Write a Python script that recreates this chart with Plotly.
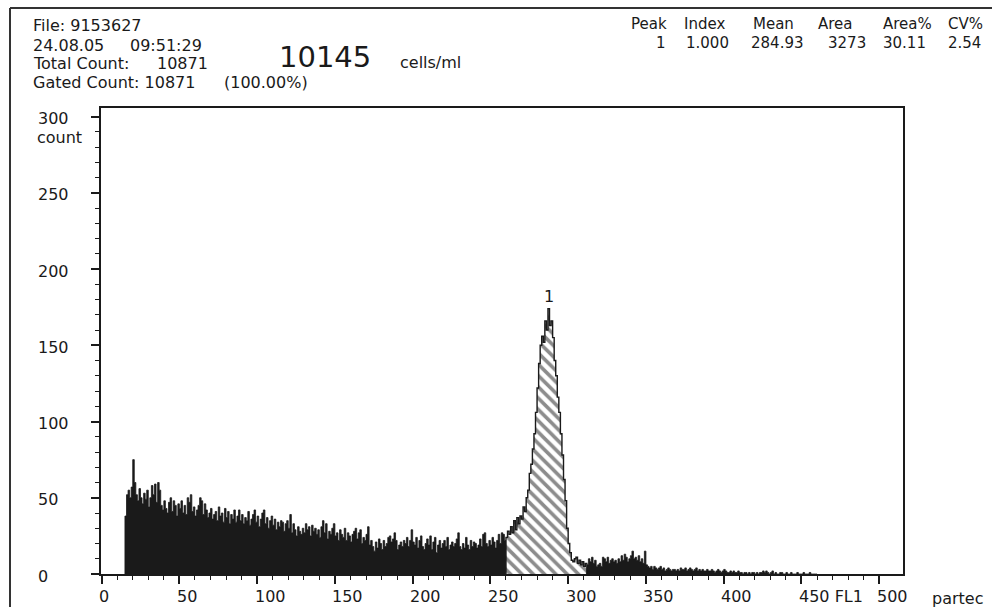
import plotly.graph_objects as go

# ---------------- data ----------------
start_left = 15
counts_left = [
    38, 52, 55, 50, 57,
    75, 60, 52, 48, 56, 50, 46, 53, 49, 55,
    44, 50, 58, 52, 59, 47, 60, 55, 45, 42,
    48, 43, 40, 47, 50, 41, 48, 45, 38, 46,
    43, 48, 40, 45, 39, 50, 47, 52, 41, 44,
    38, 42, 45, 50, 48, 39, 46, 42, 37, 40,
    43, 36, 39, 41, 35, 44, 38, 40, 34, 43,
    37, 41, 33, 39, 36, 42, 34, 38, 42, 35,
    39, 33, 37, 35, 41, 32, 36, 39, 42, 34,
    38, 31, 36, 40, 42, 33, 37, 30, 35, 38,
    32, 36, 29, 34, 31, 35, 34, 28, 33, 35,
    30, 39, 27, 33, 29, 25, 31, 28, 26, 30,
    27, 33, 29, 31, 25, 32, 28, 30, 26, 29,
    24, 31, 35, 27, 33, 23, 28, 26, 30, 33,
    25, 27, 22, 29, 26, 24, 30, 22, 27, 25,
    21, 26, 28, 30, 23, 27, 29, 20, 24, 22,
    26, 31, 19, 22, 18, 15, 21, 17, 23, 20,
    16, 22, 18, 20, 24, 25, 21, 23, 27, 22,
    16, 19, 21, 18, 22, 20, 24, 18, 22, 29,
    21, 19, 24, 17, 22, 25, 18, 16, 20, 23,
    19, 25, 16, 21, 24, 14, 19, 22, 17, 20,
    22, 18, 24, 16, 19, 21, 18, 20, 23, 27,
    18, 16, 20, 17, 24, 19, 16, 22, 18, 21,
    20, 17, 19, 23, 18, 26, 27, 20, 18, 22,
    19, 24, 21, 17, 22, 26, 20, 27, 26, 22,
]
start_peak = 260
counts_peak = [
    24, 28, 26, 31, 27, 35, 29, 37, 33, 38,
    36, 44, 41, 50, 55, 66, 72, 82, 92, 106,
    122, 138, 150, 156, 152, 166, 160, 174, 163, 166,
    155, 140, 130, 116, 106, 92, 78, 62, 48, 30,
    20, 14, 9, 8, 10, 11, 7, 9, 6, 8,
    5, 7,
]
start_right = 312
counts_right = [
    6, 10, 8, 11, 7, 9, 5, 6,
    7, 5, 11, 10, 8, 11, 7, 9, 10, 8,
    9, 7, 10, 8, 12, 9, 13, 11, 8, 10,
    12, 15, 10, 11, 9, 12, 8, 10, 7, 15,
    6, 5, 4, 5, 3, 5, 4, 3, 4, 5,
    3, 4, 2, 3, 4, 3, 2, 3, 3, 2,
    3, 2, 4, 3, 3, 4, 2, 3, 4, 3,
    2, 3, 4, 2, 3, 2, 3, 2, 2, 3,
    2, 2, 3, 2, 1, 2, 3, 2, 1, 2,
    3, 2, 1, 1, 2, 1, 2, 1, 1, 2,
    1, 1, 0, 1, 1, 0, 1, 0, 1, 1,
    0, 1, 0, 1, 1, 2, 1, 2, 1, 0,
    1, 2, 0, 1, 0, 0, 1, 1, 0, 0,
    1, 0, 0, 1, 0, 0, 0, 1, 0, 0,
    0, 1, 0, 0, 0, 1, 0, 0, 0, 0,
]
peak_label = "1"

x_major = [0, 50, 100, 150, 200, 250, 300, 350, 400, 450, 500]
x_labels = ["0", "50", "100", "150", "200", "250", "300", "350", "400", "450 FL1", "500"]
y_major = [0, 50, 100, 150, 200, 250, 300]
y_labels = ["0", "50", "100", "150", "200", "250", "300"]

header_left = [
    ("File: 9153627", 31, 25),
    ("24.08.05", 31, 45),
    ("09:51:29", 128, 45),
    ("Total Count:", 31, 63.5),
    ("10871", 155, 63.5),
    ("Gated Count: 10871", 31, 82),
    ("(100.00%)", 222, 82),
]
header_right = [
    ("Peak", 630, 23.5), ("Index", 683, 23.5), ("Mean", 752, 23.5),
    ("Area", 817, 23.5), ("Area%", 882, 23.5), ("CV%", 947, 23.5),
    ("1", 655, 42.5), ("1.000", 685, 42.5), ("284.93", 750, 42.5),
    ("3273", 827, 42.5), ("30.11", 882, 42.5), ("2.54", 947, 42.5),
]

# ---------------- layout geometry ----------------
W, H = 992, 607
ML, MR, MT, MB = 101, 89, 108, 33
PW, PH = W - ML - MR, H - MT - MB
FONT = "DejaVu Sans"
INK = "#1a1a1a"


def px(x):
    return (x - ML) / PW


def py(y):
    return (H - MB - y) / PH


def step_xy(start, vals):
    xs = [start] + [start + i for i in range(len(vals))] + [start + len(vals)]
    ys = [0] + list(vals) + [0]
    return xs, ys


fig = go.Figure()

for start, vals in ((start_left, counts_left), (start_right, counts_right)):
    xs, ys = step_xy(start, vals)
    fig.add_trace(go.Scatter(
        x=xs, y=ys, mode="lines", line_shape="hv",
        line=dict(color=INK, width=0.8), fill="toself", fillcolor=INK,
        hoverinfo="skip", showlegend=False,
    ))

xs, ys = step_xy(start_peak, counts_peak)
fig.add_trace(go.Scatter(
    x=xs, y=ys, mode="lines", line_shape="hv",
    line=dict(color=INK, width=1.4), fill="toself", fillcolor="white",
    fillpattern=dict(shape="\\", fgcolor=INK, bgcolor="white", size=8, solidity=0.45),
    hoverinfo="skip", showlegend=False,
))

# peak label
pk = max(counts_peak)
pk_ch = start_peak + counts_peak.index(pk)
annotations = [dict(x=pk_ch + 0.5, y=pk, xref="x", yref="y", text=peak_label,
                    showarrow=False, yshift=12, font=dict(family=FONT, size=16, color=INK))]

# x tick labels (start just left of each tick, as in the print-out)
for v, t in zip(x_major, x_labels):
    annotations.append(dict(x=v, y=0, xref="x", yref="paper", text=t, showarrow=False,
                            xanchor="left", yanchor="middle", xshift=-4.5, yshift=-22,
                            font=dict(family=FONT, size=16, color=INK)))

# y tick labels (left aligned)
for v, t in zip(y_major, y_labels):
    annotations.append(dict(x=px(36), y=v, xref="paper", yref="y", text=t, showarrow=False,
                            xanchor="left", yanchor="middle", yshift=-2,
                            font=dict(family=FONT, size=16, color=INK)))
annotations.append(dict(x=px(35), y=py(137), xref="paper", yref="paper", text="count",
                        showarrow=False, xanchor="left", yanchor="middle",
                        font=dict(family=FONT, size=16, color=INK)))
annotations.append(dict(x=px(930), y=py(598), xref="paper", yref="paper", text="partec",
                        showarrow=False, xanchor="left", yanchor="middle",
                        font=dict(family=FONT, size=16, color=INK)))

for t, x, y in header_left:
    annotations.append(dict(x=px(x), y=py(y), xref="paper", yref="paper", text=t,
                            showarrow=False, xanchor="left", yanchor="middle",
                            font=dict(family=FONT, size=16, color=INK)))
for t, x, y in header_right:
    annotations.append(dict(x=px(x), y=py(y), xref="paper", yref="paper", text=t,
                            showarrow=False, xanchor="left", yanchor="middle", borderpad=0,
                            font=dict(family=FONT, size=15, color=INK)))
annotations.append(dict(x=px(277), y=py(57.5), xref="paper", yref="paper", text="10145",
                        showarrow=False, xanchor="left", yanchor="middle",
                        font=dict(family=FONT, size=29, color=INK)))
annotations.append(dict(x=px(398), y=py(62), xref="paper", yref="paper", text="cells/ml",
                        showarrow=False, xanchor="left", yanchor="middle",
                        font=dict(family=FONT, size=16, color=INK)))

shapes = [
    dict(type="line", xref="paper", yref="paper", x0=px(10), y0=py(8), x1=px(992), y1=py(8),
         line=dict(color="#333", width=2)),
    dict(type="line", xref="paper", yref="paper", x0=px(10), y0=py(8), x1=px(10), y1=py(607),
         line=dict(color="#333", width=2)),
]

x_minor = [v for v in range(0, 501, 10) if v % 50]
y_minor = [v for v in range(0, 301, 10) if v % 50]

fig.update_layout(
    width=W, height=H, autosize=False,
    margin=dict(l=ML, r=MR, t=MT, b=MB, pad=0, autoexpand=False),
    paper_bgcolor="white", plot_bgcolor="white",
    font=dict(family=FONT, size=16, color=INK),
    annotations=annotations, shapes=shapes,
    xaxis=dict(range=[-0.4, 515.3], showgrid=False, zeroline=False, automargin=False,
               showline=True, linecolor=INK, linewidth=1.5, mirror=True,
               tickmode="array", tickvals=x_major, showticklabels=False,
               ticks="outside", ticklen=8, tickwidth=1.5, tickcolor=INK,
               minor=dict(tickmode="array", tickvals=x_minor, ticks="outside",
                          ticklen=4, tickwidth=1, tickcolor=INK)),
    yaxis=dict(range=[0, 305.6], showgrid=False, zeroline=False, automargin=False,
               showline=True, linecolor=INK, linewidth=1.5, mirror=True,
               tickmode="array", tickvals=y_major, ticks="outside", ticklen=8,
               tickwidth=1.5, tickcolor=INK, showticklabels=False,
               minor=dict(tickmode="array", tickvals=y_minor, ticks="outside",
                          ticklen=4, tickwidth=1, tickcolor=INK)),
)

fig.write_html("out.html", config={"displayModeBar": False},
               post_script="document.body.style.margin='0';document.body.style.padding='0';")
